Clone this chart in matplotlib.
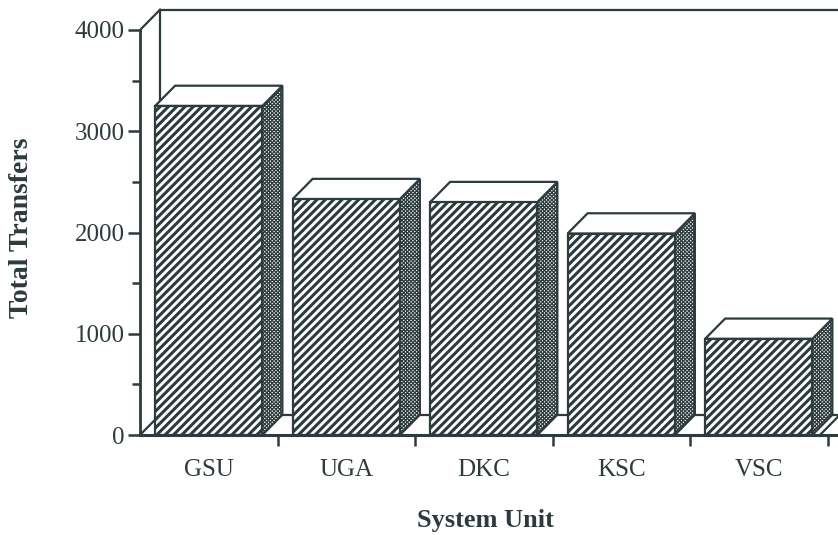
import matplotlib.pyplot as plt
from matplotlib.patches import Polygon
import matplotlib as mpl

units = ["GSU", "UGA", "DKC", "KSC", "VSC"]
transfers = [3250, 2330, 2300, 1990, 950]
y_ticks = [0, 1000, 2000, 3000, 4000]
y_minor = [500, 1500, 2500, 3500]

ink = "#2d3b3d"
plt.rcParams["font.family"] = ["Liberation Serif", "DejaVu Serif"]

fig = plt.figure(figsize=(8.38, 5.35), dpi=100)
ax = fig.add_axes([140 / 838, 100 / 535, 698 / 838, 435 / 535])

# pixel scale of the original: 137.5 px per slot, 405 px per 4000
xmax = 698 / 137.5
ymax = 435 / (405 / 4000)
ax.set_xlim(0, xmax)
ax.set_ylim(0, ymax)

dx = 20 / 137.5   # depth of the fake 3d
dy = 200
w0, w1 = 0.11, 0.89

lw = 1.6
# back wall and floor
ax.plot([dx, dx], [dy, 4000 + dy], color=ink, lw=lw)
ax.plot([0, dx], [4000, 4000 + dy], color=ink, lw=lw)
ax.plot([dx, xmax], [4000 + dy, 4000 + dy], color=ink, lw=lw)
ax.plot([0, dx], [0, dy], color=ink, lw=lw)
ax.plot([dx, xmax], [dy, dy], color=ink, lw=lw)
ax.plot([4.945, 4.945 + dx], [0, dy], color=ink, lw=lw)

for i, h in enumerate(transfers):
    x0, x1 = i + w0, i + w1
    with mpl.rc_context({"hatch.linewidth": 0.9}):
        side = Polygon([(x1, 0), (x1 + dx, dy), (x1 + dx, h + dy), (x1, h)],
                       facecolor="white", edgecolor=ink, hatch="xxxxxxxxx",
                       lw=lw, joinstyle="miter")
    top = Polygon([(x0, h), (x0 + dx, h + dy), (x1 + dx, h + dy), (x1, h)],
                  facecolor="white", edgecolor=ink, lw=lw, joinstyle="miter")
    with mpl.rc_context({"hatch.linewidth": 2.2}):
        front = Polygon([(x0, 0), (x1, 0), (x1, h), (x0, h)],
                        facecolor="white", edgecolor=ink, hatch="////", lw=lw,
                        joinstyle="miter")
    for p in (side, top, front):
        p.set_zorder(3)
        ax.add_patch(p)

for s in ["top", "right"]:
    ax.spines[s].set_visible(False)
ax.spines["left"].set_bounds(0, 4000)
ax.spines["left"].set_color(ink)
ax.spines["bottom"].set_color(ink)
ax.spines["left"].set_linewidth(2)
ax.spines["bottom"].set_linewidth(2.2)
ax.spines["bottom"].set_zorder(4)

ax.set_yticks(y_ticks)
ax.set_yticks(y_minor, minor=True)
ax.tick_params(axis="y", which="major", length=9, width=1.8, color=ink,
               labelsize=18, labelcolor=ink, pad=2)
ax.tick_params(axis="y", which="minor", length=6, width=1.8, color=ink)

ax.set_xticks(range(1, 6))
ax.set_xticklabels([])
ax.set_xticks([i + 0.5 for i in range(len(units))], minor=True)
ax.set_xticklabels(units, minor=True)
ax.tick_params(axis="x", which="major", length=8, width=1.8, color=ink)
ax.tick_params(axis="x", which="minor", length=0, labelsize=18,
               labelcolor=ink, pad=17)

fig.text(485 / 838, 1 - 521 / 535, "System Unit", ha="center", va="center",
         fontsize=19, fontweight="bold", color=ink)
fig.text(22 / 838, 1 - 228 / 535, "Total Transfers", ha="center", va="center",
         rotation=90, fontsize=20, fontweight="bold", color=ink)

fig.savefig("out.png", dpi=100)
